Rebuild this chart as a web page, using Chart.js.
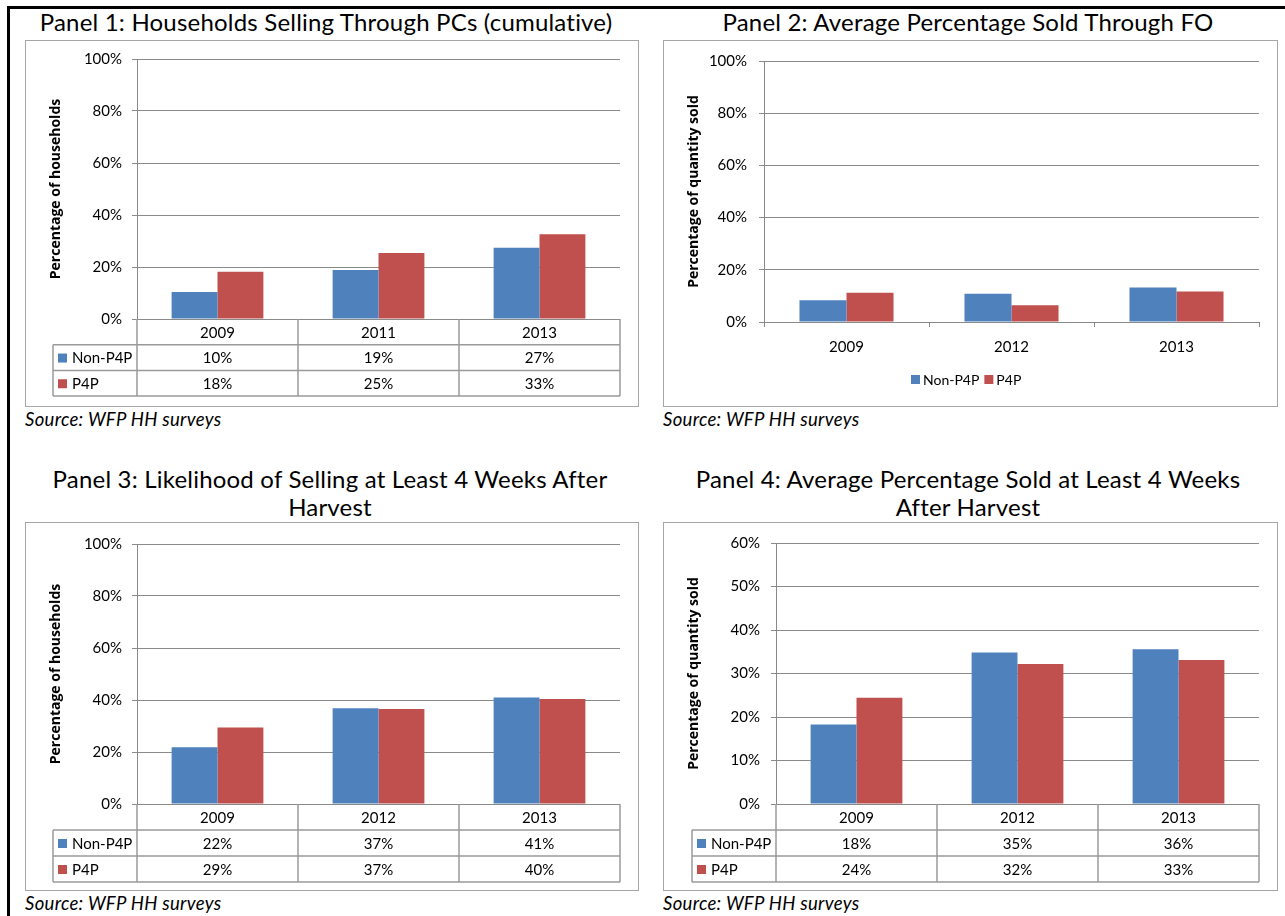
<!DOCTYPE html>
<html>
<head>
<title>P4P household sales panels</title>
<script src="https://cdn.jsdelivr.net/npm/chart.js"></script>
<style>
  body { margin: 0; background: #fff; width: 1285px; height: 916px; position: relative; overflow: hidden; font-family: Lato, sans-serif; color: #000; }
  .frameTop { position: absolute; left: 7px; top: 6px; width: 1278px; height: 3px; background: #000; }
  .frameLeft { position: absolute; left: 7px; top: 6px; width: 3px; height: 910px; background: #000; }
  .title { position: absolute; font-size: 24px; letter-spacing: 0.2px; line-height: 28px; text-align: center; white-space: nowrap; }
  .box { position: absolute; border: 1.5px solid #a6a6a6; box-sizing: border-box; pointer-events: none; }
  canvas { position: absolute; }
  .source { position: absolute; font-size: 18.5px; letter-spacing: 0.3px; line-height: 20px; font-style: italic; }
</style>
</head>
<body>
<div class="frameTop"></div>
<div class="frameLeft"></div>

<div class="title" style="left:0px; top:8px; width:652px;">Panel 1: Households Selling Through PCs (cumulative)</div>
<div class="title" style="left:663px; top:8px; width:610px;">Panel 2: Average Percentage Sold Through FO</div>
<div class="title" style="left:0px; top:465px; width:660px;">Panel 3: Likelihood of Selling at Least 4 Weeks After<br>Harvest</div>
<div class="title" style="left:663px; top:465px; width:610px;">Panel 4: Average Percentage Sold at Least 4 Weeks<br>After Harvest</div>

<canvas id="panel1" width="614" height="367" style="left:25px; top:40px;"></canvas>
<canvas id="panel2" width="615" height="367" style="left:663px; top:40px;"></canvas>
<canvas id="panel3" width="614" height="369" style="left:25px; top:522px;"></canvas>
<canvas id="panel4" width="615" height="369" style="left:663px; top:522px;"></canvas>

<div class="box" style="left:25px; top:40px; width:614px; height:367px;"></div>
<div class="box" style="left:663px; top:40px; width:615px; height:367px;"></div>
<div class="box" style="left:25px; top:522px; width:614px; height:369px;"></div>
<div class="box" style="left:663px; top:522px; width:615px; height:369px;"></div>

<div class="source" style="left:25px; top:409px;">Source: WFP HH surveys</div>
<div class="source" style="left:663px; top:409px;">Source: WFP HH surveys</div>
<div class="source" style="left:25px; top:893px;">Source: WFP HH surveys</div>
<div class="source" style="left:663px; top:893px;">Source: WFP HH surveys</div>

<script>
// values (tables show them rounded)
const seriesNames = ['Non-P4P', 'P4P'];

const p1Years = ['2009', '2011', '2013'];
const p1NonP4P = [10.4, 18.8, 27.4];
const p1P4P = [18.2, 25.4, 32.6];

const p2Years = ['2009', '2012', '2013'];
const p2NonP4P = [8.3, 10.8, 13.2];
const p2P4P = [11.2, 6.4, 11.7];

const p3Years = ['2009', '2012', '2013'];
const p3NonP4P = [21.8, 36.8, 41.0];
const p3P4P = [29.4, 36.5, 40.4];

const p4Years = ['2009', '2012', '2013'];
const p4NonP4P = [18.3, 34.8, 35.6];
const p4P4P = [24.4, 32.2, 33.1];

const BLUE = '#4f81bd';
const RED = '#c0504d';
const GRID = '#8a8a8a';
const TABLE_LINE = '#9a9a9a';

Chart.defaults.font.family = 'Lato';
Chart.defaults.font.size = 15;
Chart.defaults.color = '#000';

// Excel style data table under the axis, or a plain legend
const dataTable = {
  id: 'dataTable',
  afterDraw(chart, args, opts) {
    const ctx = chart.ctx;
    const area = chart.chartArea;
    const x = chart.scales.x;
    const n = chart.data.labels.length;
    const colW = (area.right - area.left) / n;
    const sets = chart.data.datasets;
    ctx.save();
    ctx.font = '15px Lato';
    ctx.fillStyle = '#000';
    ctx.textBaseline = 'middle';

    if (opts.table) {
      const rh = opts.rowH;
      const ys = [area.bottom, area.bottom + rh, area.bottom + 2 * rh, area.bottom + 3 * rh];
      ctx.strokeStyle = TABLE_LINE;
      ctx.lineWidth = 1.5;
      ctx.beginPath();
      for (let r = 1; r < ys.length; r++) {
        ctx.moveTo(opts.left, ys[r]);
        ctx.lineTo(area.right, ys[r]);
      }
      ctx.moveTo(opts.left, ys[1]);
      ctx.lineTo(opts.left, ys[3]);
      for (let i = 0; i <= n; i++) {
        const cx = area.left + i * colW;
        ctx.moveTo(cx, ys[0]);
        ctx.lineTo(cx, ys[3]);
      }
      ctx.stroke();

      ctx.textAlign = 'center';
      chart.data.labels.forEach((lab, i) => {
        ctx.fillText(lab, x.getPixelForValue(i), (ys[0] + ys[1]) / 2 + 1);
      });
      sets.forEach((ds, r) => {
        const yc = (ys[r + 1] + ys[r + 2]) / 2 + 1;
        ctx.fillStyle = ds.backgroundColor;
        ctx.fillRect(opts.left + 5, yc - 5, 9, 9);
        ctx.fillStyle = '#000';
        ctx.textAlign = 'left';
        ctx.fillText(ds.label, opts.left + 19, yc);
        ctx.textAlign = 'center';
        ds.data.forEach((v, i) => {
          ctx.fillText(Math.round(v) + '%', x.getPixelForValue(i), yc);
        });
      });
    }

    if (opts.legend) {
      let lx = opts.legend.x;
      const ly = opts.legend.y;
      ctx.font = '14px Lato';
      ctx.textAlign = 'left';
      sets.forEach(ds => {
        ctx.fillStyle = ds.backgroundColor;
        ctx.fillRect(lx, ly - 5, 9, 9);
        ctx.fillStyle = '#000';
        ctx.fillText(ds.label, lx + 12, ly);
        lx += 12 + ctx.measureText(ds.label).width + 5;
      });
    }
    ctx.restore();
  }
};

function makePanel(id, labels, nonP4P, p4p, cfg) {
  new Chart(document.getElementById(id), {
    type: 'bar',
    data: {
      labels: labels,
      datasets: [
        { label: seriesNames[0], data: nonP4P, backgroundColor: BLUE },
        { label: seriesNames[1], data: p4p, backgroundColor: RED }
      ]
    },
    options: {
      responsive: false,
      animation: false,
      categoryPercentage: 0.57,
      barPercentage: 1,
      layout: { padding: { left: 0, top: cfg.top, right: 19, bottom: cfg.bottom } },
      plugins: {
        legend: { display: false },
        tooltip: { enabled: false },
        dataTable: cfg.extra
      },
      scales: {
        x: cfg.xAxis ? {
          grid: { display: true, offset: true, drawOnChartArea: false, drawTicks: true, tickLength: 5, color: GRID },
          border: { display: true, color: GRID },
          ticks: { padding: 11 },
          afterFit: s => { s.height = cfg.xHeight; }
        } : { display: false },
        y: {
          min: 0,
          max: cfg.max,
          ticks: { stepSize: cfg.step, padding: cfg.tickPad, callback: v => v + '%' },
          grid: { color: GRID, tickLength: 5, drawTicks: true },
          border: { display: true, color: GRID },
          title: {
            display: true,
            text: cfg.yTitle,
            font: { family: 'Open Sans', size: 14, weight: 'bold' },
            padding: { top: 23, bottom: 0 }
          },
          afterFit: s => { s.width = cfg.plotLeft; }
        }
      }
    },
    plugins: [dataTable]
  });
}

makePanel('panel1', p1Years, p1NonP4P, p1P4P, {
  top: 17, bottom: 88, plotLeft: 112, max: 100, step: 20, tickPad: 10,
  yTitle: 'Percentage of households',
  extra: { table: true, left: 28, rowH: 25.7 }
});

makePanel('panel2', p2Years, p2NonP4P, p2P4P, {
  top: 17, bottom: 0, plotLeft: 101, max: 100, step: 20, tickPad: 12,
  xAxis: true, xHeight: 85,
  yTitle: 'Percentage of quantity sold',
  extra: { table: false, legend: { x: 248, y: 340 } }
});

makePanel('panel3', p3Years, p3NonP4P, p3P4P, {
  top: 22, bottom: 87, plotLeft: 112, max: 100, step: 20, tickPad: 10,
  yTitle: 'Percentage of households',
  extra: { table: true, left: 28, rowH: 26 }
});

makePanel('panel4', p4Years, p4NonP4P, p4P4P, {
  top: 21, bottom: 87, plotLeft: 113, max: 60, step: 10, tickPad: 11,
  yTitle: 'Percentage of quantity sold',
  extra: { table: true, left: 29, rowH: 26 }
});
</script>
</body>
</html>
